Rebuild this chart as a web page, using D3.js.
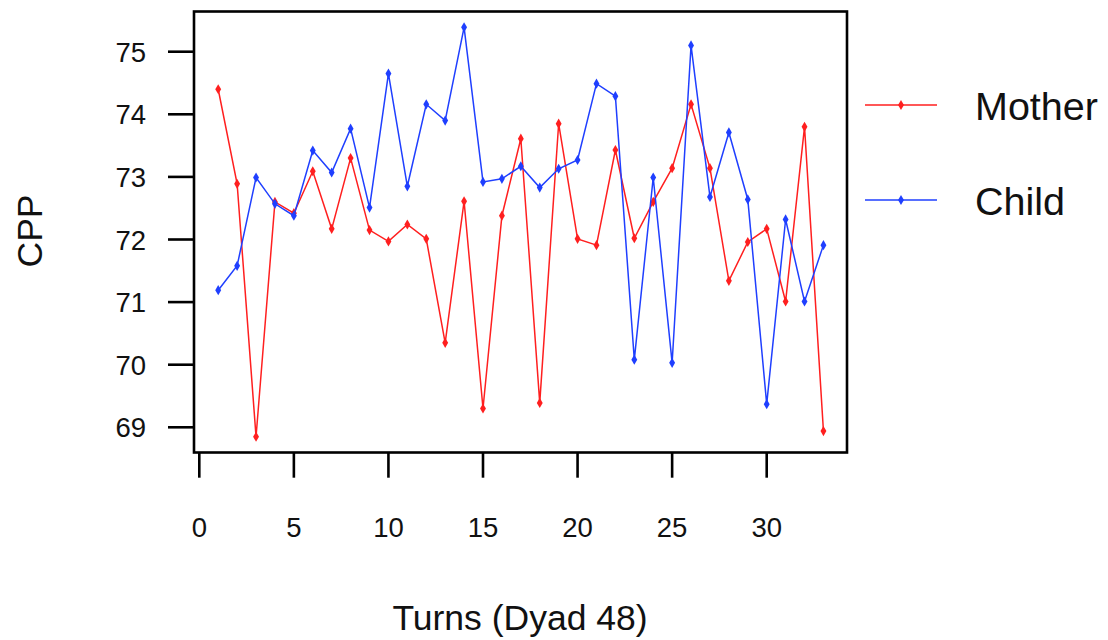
<!DOCTYPE html>
<html>
<head>
<meta charset="utf-8">
<script src="https://cdn.jsdelivr.net/npm/d3@7"></script>
<style>
html,body{margin:0;padding:0;background:#fff;}
svg{display:block;font-family:"Liberation Sans",Arial,sans-serif;}
</style>
</head>
<body>
<svg id="chart" width="1108" height="640"></svg>
<script>
const turns = d3.range(1, 34);
const mother = [74.40,72.89,68.85,72.60,72.42,73.09,72.17,73.30,72.15,71.97,72.24,72.01,70.35,72.61,69.30,72.38,73.61,69.39,73.85,72.01,71.91,73.43,72.02,72.60,73.14,74.16,73.14,71.34,71.96,72.17,71.01,73.80,68.94];
const child = [71.19,71.58,72.99,72.57,72.38,73.42,73.07,73.77,72.51,74.65,72.85,74.16,73.90,75.39,72.92,72.97,73.17,72.83,73.13,73.27,74.49,74.29,70.08,72.99,70.03,75.10,72.68,73.71,72.64,69.37,72.32,71.01,71.91];
const xTicks = [0,5,10,15,20,25,30];
const yTicks = [69,70,71,72,73,74,75];
const seriesNames = ["Mother","Child"];
const seriesColors = ["#ff1f1f","#1f3fff"];

const svg = d3.select("#chart");
const x = d3.scaleLinear().domain([0,30]).range([199.3,766.7]);
const y = d3.scaleLinear().domain([69,75]).range([427.3,51.7]);

// frame
svg.append("rect").attr("x",194).attr("y",11.5).attr("width",653).attr("height",441)
  .attr("fill","none").attr("stroke","#000").attr("stroke-width",2.6);

// x axis ticks
const xa = svg.append("g").attr("transform","translate(0,452.7)");
xa.selectAll("line").data(xTicks).join("line")
  .attr("x1",d=>x(d)).attr("x2",d=>x(d)).attr("y1",0).attr("y2",25)
  .attr("stroke","#000").attr("stroke-width",2.6);
xa.selectAll("text").data(xTicks).join("text")
  .attr("x",d=>x(d)).attr("y",84.5).attr("text-anchor","middle")
  .attr("font-size",27.5).attr("fill","#111").text(d=>d);

// y axis ticks
const ya = svg.append("g").attr("transform","translate(194,0)");
ya.selectAll("line").data(yTicks).join("line")
  .attr("x1",0).attr("x2",-26).attr("y1",d=>y(d)).attr("y2",d=>y(d))
  .attr("stroke","#000").attr("stroke-width",2.6);
ya.selectAll("text").data(yTicks).join("text")
  .attr("x",-48).attr("y",d=>y(d)+10).attr("text-anchor","end")
  .attr("font-size",27.5).attr("fill","#111").text(d=>d);

// titles
svg.append("text").attr("x",520).attr("y",630).attr("text-anchor","middle")
  .attr("font-size",35.5).attr("fill","#111").text("Turns (Dyad 48)");
svg.append("text").attr("transform","translate(41.5,231) rotate(-90)").attr("text-anchor","middle")
  .attr("font-size",35.5).attr("fill","#111").text("CPP");

// series
const diamond = d3.symbol().type(d3.symbolDiamond).size(30);
[mother, child].forEach((vals,i)=>{
  const pts = vals.map((v,j)=>[turns[j],v]);
  const line = d3.line().x(d=>x(d[0])).y(d=>y(d[1]));
  svg.append("path").attr("d",line(pts)).attr("fill","none")
    .attr("stroke",seriesColors[i]).attr("stroke-width",1.5);
  svg.append("g").selectAll("path").data(pts).join("path")
    .attr("d",diamond).attr("transform",d=>`translate(${x(d[0])},${y(d[1])})`)
    .attr("fill",seriesColors[i]);
});

// legend
const legY = [105,200];
seriesNames.forEach((n,i)=>{
  const g = svg.append("g");
  g.append("line").attr("x1",865).attr("x2",937).attr("y1",legY[i]).attr("y2",legY[i])
    .attr("stroke",seriesColors[i]).attr("stroke-width",1.5);
  g.append("path").attr("d",diamond).attr("transform",`translate(901,${legY[i]})`).attr("fill",seriesColors[i]);
  g.append("text").attr("x",975).attr("y",legY[i]+14.5).attr("font-size",39.5).attr("fill","#111").text(n);
});
</script>
</body>
</html>
